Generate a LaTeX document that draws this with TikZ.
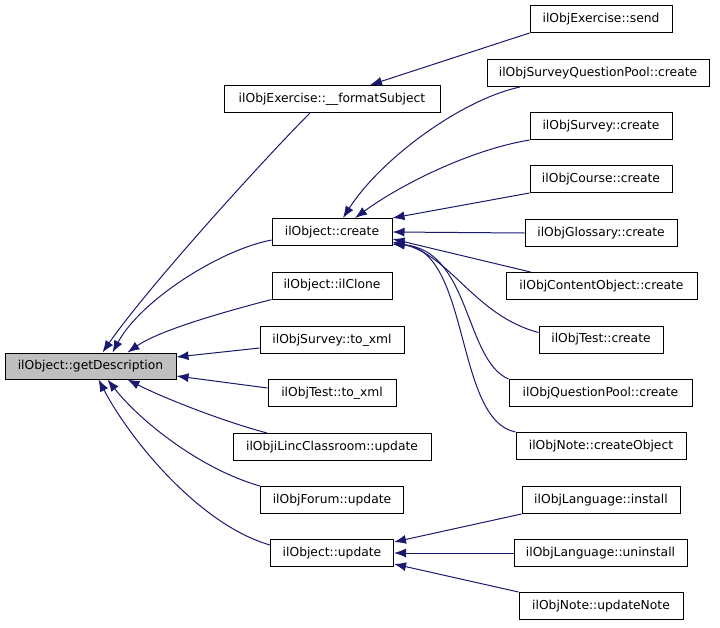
\documentclass[tikz,border=0pt]{standalone}
\usepackage{fontspec}
\setmainfont{DejaVu Sans}
\usetikzlibrary{arrows.meta,calc}
\definecolor{edgec}{HTML}{191970}
\definecolor{gdfill}{HTML}{BFBFBF}
\begin{document}
\begin{tikzpicture}[x=1pt,y=-1pt,
  box/.style={draw=black, line width=1pt, fill=white, minimum height=27pt, inner sep=0pt, font=\fontsize{12.3}{14}\selectfont},
  edge/.style={draw=edgec, line width=1pt, -{Latex[length=12pt,width=9pt]}}]
\fill[white] (0,0) rectangle (720,627);
\useasboundingbox (0,0) rectangle (720,627);
% left column
\node[box, fill=gdfill, minimum width=171pt, minimum height=26pt] (gd) at (90.5,366) {ilObject::getDescription};
% middle column
\node[box, minimum width=216pt] (fs) at (332,99) {ilObjExercise::\_\_formatSubject};
\node[box, minimum width=120pt] (cr) at (332,232) {ilObject::create};
\node[box, minimum width=120pt] (clone) at (332,285.5) {ilObject::ilClone};
\node[box, minimum width=144pt] (sxml) at (332,340) {ilObjSurvey::to\_xml};
\node[box, minimum width=128pt] (txml) at (332,393) {ilObjTest::to\_xml};
\node[box, minimum width=198pt] (ilinc) at (332,447) {ilObjiLincClassroom::update};
\node[box, minimum width=143pt] (forum) at (332,500) {ilObjForum::update};
\node[box, minimum width=123pt] (upd) at (332,553) {ilObject::update};
% right column
\node[box, minimum width=142pt] (send) at (601,19) {ilObjExercise::send};
\node[box, minimum width=222pt] (sqp) at (598,73) {ilObjSurveyQuestionPool::create};
\node[box, minimum width=142pt] (scr) at (601,126) {ilObjSurvey::create};
\node[box, minimum width=142pt] (course) at (601,179) {ilObjCourse::create};
\node[box, minimum width=152pt] (gloss) at (601,233) {ilObjGlossary::create};
\node[box, minimum width=191pt] (cobj) at (601.5,286) {ilObjContentObject::create};
\node[box, minimum width=124pt] (tcr) at (601,339.5) {ilObjTest::create};
\node[box, minimum width=183pt] (qp) at (600.5,393) {ilObjQuestionPool::create};
\node[box, minimum width=170pt] (note) at (601,446) {ilObjNote::createObject};
\node[box, minimum width=158pt] (inst) at (601,500) {ilObjLanguage::install};
\node[box, minimum width=173pt] (uninst) at (600.5,553) {ilObjLanguage::uninstall};
\node[box, minimum width=164pt] (updn) at (601,606) {ilObjNote::updateNote};
% edges into getDescription
\draw[edge] ($(fs.south)+(-22,0)$) .. controls +(-45,45) and +(45,-65) .. ($(gd.north)+(12,0)$);
\draw[edge] ($(cr.west)+(0,8)$) .. controls +(-52,10) and +(28,-52) .. ($(gd.north)+(22,0)$);
\draw[edge] (clone.south west) .. controls +(-42,11) and +(33,-23) .. ($(gd.north)+(37,0)$);
\draw[edge] ($(sxml.west)+(0,8)$) -- ($(gd.east)+(0,-9)$);
\draw[edge] ($(txml.west)+(0,-5)$) -- ($(gd.east)+(0,10)$);
\draw[edge] ($(ilinc.north)+(-65,0)$) .. controls +(-45,-12) and +(35,18) .. ($(gd.south)+(37,0)$);
\draw[edge] (forum.north west) .. controls +(-60,-17) and +(32,41) .. ($(gd.south)+(17,0)$);
\draw[edge] ($(upd.west)+(0,-8)$) .. controls +(-70,-20) and +(32,61) .. ($(gd.south)+(8,0)$);
% edges into formatSubject
\draw[edge] (send.south west) -- ($(fs.north)+(38,0)$);
% edges into create
\draw[edge] ($(sqp.south)+(-78,0)$) .. controls +(-60,13) and +(37,-58) .. ($(cr.north)+(11,0)$);
\draw[edge] (scr.south west) .. controls +(-60,10) and +(45,-33) .. ($(cr.north)+(23,0)$);
\draw[edge] (course.south west) -- (cr.north east);
\draw[edge] (gloss.west) -- (cr.east);
\draw[edge] ($(cobj.north)+(-71,0)$) -- ($(cr.east)+(0,7)$);
\draw[edge] ($(tcr.west)+(0,-7)$) .. controls +(-64,-17) and +(58,13) .. ($(cr.east)+(0,10)$);
\draw[edge] (qp.north west) .. controls +(-44,-19) and +(78,6) .. ($(cr.east)+(0,12)$);
\draw[edge] (note.north west) .. controls +(-61,-12) and +(78,6) .. ($(cr.east)+(0,12)$);
% edges into update
\draw[edge] (inst.south west) -- ($(upd.north east)+(0,3)$);
\draw[edge] (uninst.west) -- (upd.east);
\draw[edge] (updn.north west) -- ($(upd.south east)+(0,-3)$);
\end{tikzpicture}
\end{document}
